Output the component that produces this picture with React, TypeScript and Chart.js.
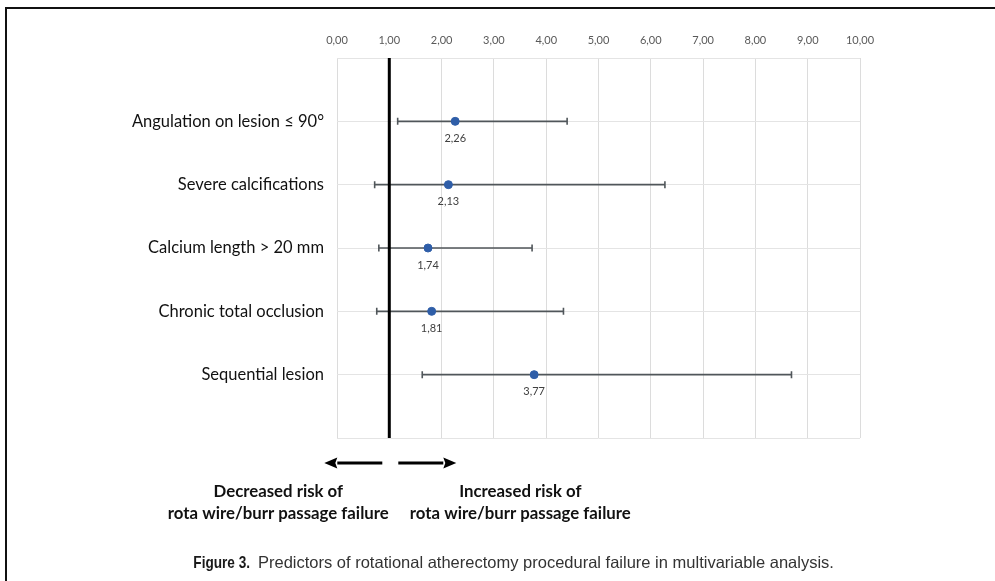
import React, { useEffect, useRef } from "react";
import { Chart, registerables } from "chart.js";

Chart.register(...registerables);

const categories = [
  "Angulation on lesion \u2264 90\u00b0",
  "Severe calcifications",
  "Calcium length > 20 mm",
  "Chronic total occlusion",
  "Sequential lesion",
];
const oddsRatios = [2.26, 2.13, 1.74, 1.81, 3.77];
const ciLow = [1.16, 0.72, 0.8, 0.76, 1.63];
const ciHigh = [4.4, 6.27, 3.73, 4.33, 8.69];
const xTickValues = [0, 1, 2, 3, 4, 5, 6, 7, 8, 9, 10];
const referenceValue = 1;
const leftNote = ["Decreased risk of", "rota wire/burr passage failure"];
const rightNote = ["Increased risk of", "rota wire/burr passage failure"];
const figureLabel = "Figure 3.";
const captionText =
  "Predictors of rotational atherectomy procedural failure in multivariable analysis.";

const fmt = (v: number) => v.toFixed(2).replace(".", ",");

const forestPlugin = {
  id: "forest",
  beforeDatasetsDraw(chart: any) {
    const { ctx, scales, chartArea } = chart;
    const xs = scales.x;
    const ys = scales.y;
    ctx.save();
    ctx.strokeStyle = "#50565a";
    ctx.lineWidth = 1.6;
    categories.forEach((_, i) => {
      const y = ys.getPixelForValue(i + 1);
      const x1 = xs.getPixelForValue(ciLow[i]);
      const x2 = xs.getPixelForValue(ciHigh[i]);
      ctx.beginPath();
      ctx.moveTo(x1, y);
      ctx.lineTo(x2, y);
      ctx.moveTo(x1, y - 3.5);
      ctx.lineTo(x1, y + 3.5);
      ctx.moveTo(x2, y - 3.5);
      ctx.lineTo(x2, y + 3.5);
      ctx.stroke();
    });
    const rx = xs.getPixelForValue(referenceValue);
    ctx.strokeStyle = "#000";
    ctx.lineWidth = 3;
    ctx.beginPath();
    ctx.moveTo(rx, chartArea.top);
    ctx.lineTo(rx, chartArea.bottom);
    ctx.stroke();
    ctx.restore();
  },
  afterDatasetsDraw(chart: any) {
    const { ctx, scales } = chart;
    const xs = scales.x;
    const ys = scales.y;
    ctx.save();
    ctx.fillStyle = "#404040";
    ctx.font = "11px Lato";
    ctx.textAlign = "center";
    ctx.textBaseline = "middle";
    oddsRatios.forEach((v, i) => {
      ctx.fillText(fmt(v), xs.getPixelForValue(v), ys.getPixelForValue(i + 1) + 17);
    });
    ctx.restore();
  },
  afterDraw(chart: any) {
    const { ctx, scales, chartArea } = chart;
    const xs = scales.x;
    const rx = xs.getPixelForValue(referenceValue);
    const ay = chartArea.bottom + 25;
    ctx.save();
    ctx.fillStyle = "#000";
    ctx.strokeStyle = "#000";
    ctx.lineWidth = 3;
    const drawArrow = (from: number, to: number) => {
      const dir = Math.sign(to - from);
      const headLen = 13;
      ctx.beginPath();
      ctx.moveTo(from, ay);
      ctx.lineTo(to - dir * headLen, ay);
      ctx.stroke();
      ctx.beginPath();
      ctx.moveTo(to, ay);
      ctx.lineTo(to - dir * headLen, ay - 5.5);
      ctx.lineTo(to - dir * (headLen - 2), ay);
      ctx.lineTo(to - dir * headLen, ay + 5.5);
      ctx.closePath();
      ctx.fill();
    };
    drawArrow(rx - 7, rx - 65);
    drawArrow(rx + 9, rx + 67);

    ctx.font = "bold 16.8px Lato";
    ctx.textAlign = "center";
    ctx.textBaseline = "middle";
    ctx.fillStyle = "#111";
    const lcx = rx - 111;
    const rcx = rx + 131;
    ctx.fillText(leftNote[0], lcx, chartArea.bottom + 54);
    ctx.fillText(leftNote[1], lcx, chartArea.bottom + 76);
    ctx.fillText(rightNote[0], rcx, chartArea.bottom + 54);
    ctx.fillText(rightNote[1], rcx, chartArea.bottom + 76);

    // caption
    ctx.textAlign = "right";
    ctx.font = "bold 17px 'Liberation Sans', Arial";
    ctx.fillStyle = "#1a1a1a";
    ctx.save();
    ctx.translate(250, 563);
    ctx.scale(0.8, 1);
    ctx.fillText(figureLabel, 0, 0);
    ctx.restore();
    ctx.textAlign = "left";
    ctx.font = "16.5px 'Liberation Sans', Arial";
    ctx.fillStyle = "#333";
    ctx.fillText(captionText, 258, 563);
    ctx.restore();
  },
};

export default function App() {
  const canvasRef = useRef<HTMLCanvasElement | null>(null);

  useEffect(() => {
    document.body.style.margin = "0";
    const canvas = canvasRef.current;
    if (!canvas) return;
    const chart = new Chart(canvas, {
      type: "scatter",
      data: {
        datasets: [
          {
            data: oddsRatios.map((v, i) => ({ x: v, y: i + 1 })),
            backgroundColor: "#2f5ea8",
            borderColor: "#2f5ea8",
            pointRadius: 4,
            pointHoverRadius: 4,
          },
        ],
      },
      options: {
        animation: false,
        responsive: false,
        devicePixelRatio: 1,
        layout: { padding: { left: 0, right: 135, top: 0, bottom: 143 } },
        plugins: { legend: { display: false }, tooltip: { enabled: false } },
        scales: {
          x: {
            type: "linear",
            position: "top",
            min: 0,
            max: 10,
            afterBuildTicks: (scale: any) => {
              scale.ticks = xTickValues.map((v) => ({ value: v }));
            },
            afterFit: (scale: any) => {
              scale.height = 58;
            },
            ticks: {
              padding: 11,
              color: "#595959",
              font: { family: "Lato", size: 11 },
              callback: (v: any) => fmt(Number(v)),
            },
            grid: { color: "#dcdcdc", lineWidth: 1, drawTicks: false },
            border: { display: false },
          },
          y: {
            type: "linear",
            reverse: true,
            min: 0,
            max: categories.length + 1,
            afterBuildTicks: (scale: any) => {
              const t = [];
              for (let i = 0; i <= categories.length + 1; i++) t.push({ value: i });
              scale.ticks = t;
            },
            afterFit: (scale: any) => {
              scale.width = 337;
            },
            ticks: {
              padding: 13,
              color: "#111",
              font: { family: "Lato", size: 16.5 },
              callback: (v: any) => {
                const i = Number(v) - 1;
                return i >= 0 && i < categories.length ? categories[i] : "";
              },
            },
            grid: { color: "#e4e4e4", lineWidth: 1, drawTicks: false },
            border: { display: false },
          },
        },
      },
      plugins: [forestPlugin],
    } as any);
    return () => chart.destroy();
  }, []);

  return (
    <div style={{ position: "relative", width: 995, height: 581, background: "#fff" }}>
      <div
        style={{
          position: "absolute",
          left: 5,
          top: 7,
          right: 0,
          bottom: 0,
          borderTop: "2px solid #111",
          borderLeft: "2px solid #111",
          pointerEvents: "none",
        }}
      />
      <canvas ref={canvasRef} width={995} height={581} style={{ display: "block" }} />
    </div>
  );
}
